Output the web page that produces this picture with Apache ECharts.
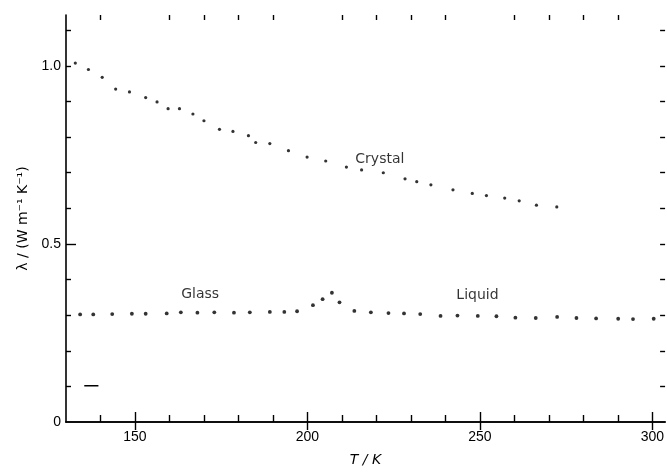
<!DOCTYPE html>
<html>
<head>
<meta charset="utf-8">
<script src="https://cdn.jsdelivr.net/npm/echarts@6/dist/echarts.min.js"></script>
<style>html,body{margin:0;padding:0;background:#fff}#c{width:667px;height:472px}</style>
</head>
<body>
<div id="c"></div>
<script>
// ---- data ----
const crystalT = [132.7,136.5,140.5,144.4,148.4,153.1,156.4,159.6,162.9,166.8,170.0,174.5,178.4,182.9,185.0,189.1,194.5,199.9,205.3,211.3,215.7,222.0,228.3,231.7,235.8,242.2,247.8,251.9,257.2,261.4,266.4,272.3];
const crystalK = [1.008,0.990,0.968,0.935,0.927,0.911,0.899,0.880,0.880,0.865,0.846,0.822,0.816,0.804,0.785,0.782,0.762,0.744,0.733,0.716,0.708,0.700,0.683,0.675,0.666,0.652,0.642,0.636,0.629,0.621,0.609,0.604];
const glassT = [134.1,137.9,143.4,149.1,153.1,159.2,163.3,168.1,173.0,178.7,183.3,189.1,193.3,197.0,201.6,204.4,207.1,209.3];
const glassK = [0.302,0.302,0.303,0.304,0.304,0.305,0.308,0.307,0.308,0.307,0.308,0.309,0.309,0.311,0.328,0.345,0.363,0.336];
const liquidT = [213.6,218.4,223.5,228.0,232.7,238.6,243.5,249.4,254.8,260.3,266.2,272.4,278.0,283.7,290.1,294.4,300.4];
const liquidK = [0.312,0.308,0.306,0.305,0.303,0.298,0.299,0.298,0.297,0.293,0.292,0.295,0.292,0.291,0.290,0.289,0.290];
const dashT = [135.3,139.4];
const dashK = [0.102,0.102];
const labelTexts = ['Crystal','Glass','Liquid'];
const labelT = [221,168.9,249.3];
const labelK = [0.737,0.358,0.357];
const xMajorTicks = [150,200,250,300];
const xMinorTicks = [140,160,170,180,190,210,220,230,240,260,270,280,290];
const yLabelValues = [0,0.5,1.0];
const yLabelTexts = ['0','0.5','1.0'];
const yTicks = [0.1,0.2,0.3,0.4,0.5,0.6,0.7,0.8,0.9,1.0,1.1];
const xName = 'T / K';
const yName = 'λ / (W m⁻¹ K⁻¹)';

// ---- chart ----
const X_MIN = 130, X_MAX = 303.7, Y_MIN = 0, Y_MAX = 1.143;
const FONT = 'Liberation Sans';
const FONT2 = 'DejaVu Sans';
const zip = (a, b) => a.map((v, i) => [v, b[i]]);
const lineStyle = { color: '#000', width: 1.6 };

function xAxis(pos, showLine, ticks, len, labels) {
  return {
    type: 'value', position: pos, min: X_MIN, max: X_MAX, gridIndex: 0,
    axisLine: { show: showLine, lineStyle: lineStyle },
    axisTick: { show: true, inside: true, length: len, customValues: ticks, lineStyle: { color: '#000', width: 1.4 } },
    axisLabel: labels ? { show: true, customValues: labels, color: '#000', fontFamily: FONT, fontSize: 14, margin: 8 } : { show: false },
    splitLine: { show: false }
  };
}
function yAxis(pos, showLine, ticks, len, labels) {
  return {
    type: 'value', position: pos, min: Y_MIN, max: Y_MAX, gridIndex: 0,
    axisLine: { show: showLine, lineStyle: lineStyle },
    axisTick: { show: true, inside: true, length: len, customValues: ticks, lineStyle: { color: '#000', width: 1.4 } },
    axisLabel: labels ? {
      show: true, customValues: labels, color: '#000', fontFamily: FONT, fontSize: 14, margin: 5,
      formatter: v => { const i = yLabelValues.findIndex(t => Math.abs(t - v) < 1e-6); return i >= 0 ? yLabelTexts[i] : ''; }
    } : { show: false },
    splitLine: { show: false }
  };
}

const xs = [
  xAxis('bottom', true, xMajorTicks, 10, xMajorTicks),
  xAxis('bottom', false, xMinorTicks, 7, null),
  xAxis('top', true, xMajorTicks, 8, null),
  xAxis('top', false, xMinorTicks, 5, null)
];
xs[0].name = xName;
xs[0].nameLocation = 'middle';
xs[0].nameGap = 31;
xs[0].nameTextStyle = { color: '#000', fontFamily: FONT2, fontSize: 14, fontStyle: 'italic' };

const ys = [
  yAxis('left', true, yTicks.filter(v => Math.abs(v - 0.5) > 1e-6), 5, yLabelValues),
  yAxis('left', false, [0.5], 10, null),
  yAxis('right', false, yTicks, 5, null)
];
ys[0].name = yName;
ys[0].nameLocation = 'middle';
ys[0].nameRotate = 90;
ys[0].nameGap = 33;
ys[0].nameTextStyle = { color: '#000', fontFamily: FONT2, fontSize: 14 };

const chart = echarts.init(document.getElementById('c'), null, { renderer: 'canvas' });
chart.setOption({
  animation: false,
  backgroundColor: '#fff',
  grid: { left: 66, right: 0, top: 15, bottom: 49 },
  xAxis: xs,
  yAxis: ys,
  series: [
    { name: 'Crystal', type: 'scatter', data: zip(crystalT, crystalK), symbol: 'circle', symbolSize: 3.2, itemStyle: { color: '#000' } },
    { name: 'Glass', type: 'scatter', data: zip(glassT, glassK), symbol: 'circle', symbolSize: 3.8, itemStyle: { color: '#000' } },
    { name: 'Liquid', type: 'scatter', data: zip(liquidT, liquidK), symbol: 'circle', symbolSize: 3.8, itemStyle: { color: '#000' } },
    { name: 'mark', type: 'line', data: zip(dashT, dashK), symbol: 'none', lineStyle: { color: '#000', width: 1.5 } },
    {
      name: 'labels', type: 'scatter', symbolSize: 0,
      data: labelTexts.map((t, i) => ({ value: [labelT[i], labelK[i]], name: t })),
      label: { show: true, position: 'inside', formatter: p => p.name, color: '#000', fontFamily: FONT2, fontSize: 14 }
    }
  ]
});
</script>
</body>
</html>
